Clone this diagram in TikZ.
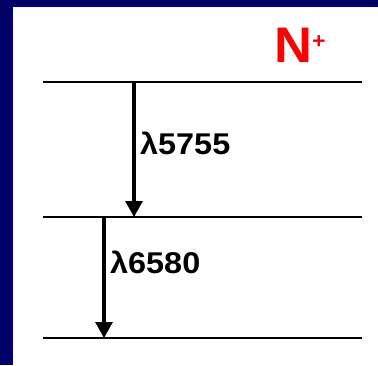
\documentclass[tikz,border=0pt]{standalone}
\usepackage{fontspec}
\setmainfont{Liberation Sans}
\usetikzlibrary{arrows.meta}
\definecolor{navy}{RGB}{0,0,102}
\definecolor{nred}{RGB}{255,0,0}
\begin{document}
\begin{tikzpicture}[x=1pt,y=-1pt,
  level/.style={line width=2.6pt},
  trans/.style={line width=3.2pt,-{Triangle[width=17pt,length=16pt]}},
  lbl/.style={anchor=base west,inner sep=0pt,font=\bfseries\fontsize{30}{30}\selectfont}]
\fill[navy] (0,0) rectangle (378,365);
\fill[white] (13,7) rectangle (378,365);
\useasboundingbox (0,0) rectangle (378,365);
\coordinate (t1) at (43,82);  \coordinate (t2) at (362,82);
\coordinate (m1) at (43,217); \coordinate (m2) at (362,217);
\coordinate (b1) at (43,338); \coordinate (b2) at (362,338);
\draw[level] (t1) -- (t2);
\draw[level] (m1) -- (m2);
\draw[level] (b1) -- (b2);
\coordinate (a1s) at (134,81);  \coordinate (a1e) at (134,217);
\coordinate (a2s) at (104,216); \coordinate (a2e) at (104,338);
\draw[trans] (a1s) -- (a1e);
\draw[trans] (a2s) -- (a2e);
\node[lbl] (l1) at (140,154) {\scalebox{1.08}[1]{λ5755}};
\node[lbl] (l2) at (110,273) {\scalebox{1.08}[1]{λ6580}};
\node[lbl,text=nred,font=\bfseries\fontsize{50}{50}\selectfont] (ion) at (274,62) {\scalebox{1.05}[1]{N\raisebox{14pt}{\fontsize{22}{22}\selectfont +}}};
\end{tikzpicture}
\end{document}
